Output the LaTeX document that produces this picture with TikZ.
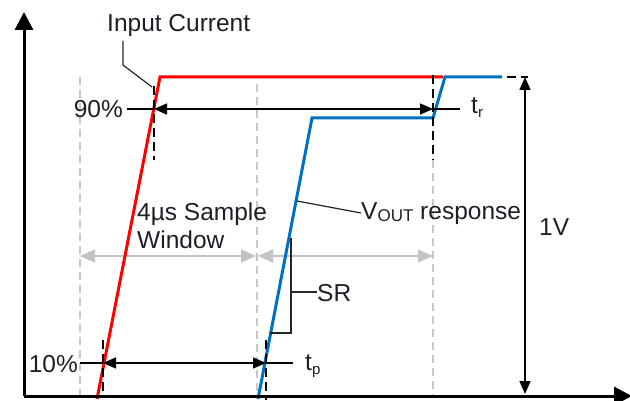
\documentclass[tikz,border=0pt]{standalone}
\usepackage{fontspec}
\setmainfont{Liberation Sans}
\usetikzlibrary{arrows.meta}
\definecolor{myred}{RGB}{255,0,0}
\definecolor{myblue}{RGB}{0,112,192}
\definecolor{gline}{RGB}{200,200,200}
\definecolor{garrow}{RGB}{195,195,195}
\definecolor{txt}{RGB}{30,30,40}
\tikzset{
  axis/.style={line width=3pt,-{Triangle[length=18pt,width=18pt]}},
  wave/.style={line width=3pt,line join=miter},
  griddash/.style={gline,line width=1.3pt,dash pattern=on 8pt off 5pt},
  blkdash/.style={black,line width=1.6pt,dash pattern=on 9pt off 5pt},
  dim/.style={black,line width=1.5pt},
  dimarr/.style={black,line width=1.5pt,{Triangle[length=13pt,width=11pt]}-{Triangle[length=13pt,width=11pt]}},
  garr/.style={garrow,line width=1.5pt,{Triangle[length=15pt,width=13pt]}-{Triangle[length=15pt,width=13pt]}},
  lead/.style={black!85,line width=1.2pt},
  lbl/.style={text=txt,inner sep=0pt,font=\fontsize{24.5}{28}\selectfont},
}
\newcommand{\subs}[1]{\raisebox{-4pt}{\fontsize{15}{15}\selectfont #1}}
\begin{document}
\begin{tikzpicture}[x=1pt,y=-1pt]
\useasboundingbox (0,0) rectangle (630,401);
% coordinates
\coordinate (o) at (24,396);
\coordinate (ytop) at (24,12);
\coordinate (xend) at (632,396);
\coordinate (r0) at (97,399);
\coordinate (r1) at (160,77);
\coordinate (r2) at (443,77);
\coordinate (b0) at (258,399);
\coordinate (b1) at (312,118);
\coordinate (b2) at (433,118);
\coordinate (b3) at (445,77);
\coordinate (b4) at (502,77);
\coordinate (g1t) at (80,77);
\coordinate (g1b) at (80,396);
\coordinate (g2t) at (257,84);
\coordinate (g2b) at (257,396);
\coordinate (g3t) at (433,160);
\coordinate (g3b) at (433,396);
% grey dashed verticals
\draw[griddash] (g1t) -- (g1b);
\draw[griddash] (g2t) -- (g2b);
\draw[griddash] (g3t) -- (g3b);
% grey arrows
\coordinate (ga1) at (80,256);
\coordinate (ga2) at (256,256);
\coordinate (ga3) at (258,256);
\coordinate (ga4) at (433,256);
\draw[garr] (ga1) -- (ga2);
\draw[garr] (ga3) -- (ga4);
% waves
\draw[wave,myred] (r0) -- (r1) -- (r2);
\draw[wave,myblue] (b0) -- (b1) -- (b2) -- (b3) -- (b4);
% black dashed markers
\coordinate (d1t) at (154,86);
\coordinate (d1b) at (154,160);
\draw[blkdash] (d1t) -- (d1b);
\coordinate (d2t) at (433,75);
\coordinate (d2b) at (433,160);
\draw[blkdash] (d2t) -- (d2b);
\coordinate (d3t) at (103,340);
\coordinate (d3b) at (103,398);
\draw[blkdash] (d3t) -- (d3b);
\coordinate (d4t) at (266,340);
\coordinate (d4b) at (266,400);
\draw[blkdash] (d4t) -- (d4b);
\coordinate (d5a) at (507,77);
\coordinate (d5b) at (528,77);
\draw[blkdash] (d5a) -- (d5b);
% 90% dimension
\coordinate (n90a) at (127,109);
\coordinate (n90b) at (154,109);
\coordinate (n90c) at (433,109);
\coordinate (n90d) at (460,109);
\draw[dim] (n90a) -- (n90b);
\draw[dimarr] (n90b) -- (n90c);
\draw[dim] (n90c) -- (n90d);
% 10% dimension
\coordinate (n10a) at (80,363);
\coordinate (n10b) at (103,363);
\coordinate (n10c) at (266,363);
\coordinate (n10d) at (293,363);
\draw[dim] (n10a) -- (n10b);
\draw[dimarr] (n10b) -- (n10c);
\draw[dim] (n10c) -- (n10d);
% 1V arrow
\coordinate (v1t) at (525,77);
\coordinate (v1b) at (525,394);
\draw[dimarr] (v1t) -- (v1b);
% axes
\draw[axis] (o) -- (ytop);
\draw[axis] (o) -- (xend);
% SR bracket
\coordinate (sr1) at (289,238);
\coordinate (sr2) at (291,238);
\coordinate (sr3) at (291,333);
\coordinate (sr4) at (270,333);
\coordinate (sr5) at (291,292);
\coordinate (sr6) at (317,292);
\draw[lead,line width=1.5pt] (sr2) -- (sr3) -- (sr4);
\draw[lead,line width=1.5pt] (sr5) -- (sr6);
% leaders
\coordinate (ic1) at (123,41);
\coordinate (ic2) at (123,65);
\coordinate (ic3) at (152,87);
\draw[lead] (ic1) -- (ic2) -- (ic3);
\coordinate (vo1) at (297,201);
\coordinate (vo2) at (361,213);
\draw[lead] (vo1) -- (vo2);
% labels
\node[lbl,anchor=west] (lic) at (107,25) {Input Current};
\node[lbl,anchor=east] (l90) at (123,109) {90\%};
\node[lbl,anchor=west] (ltr) at (471,108) {t\subs{r}};
\node[lbl,anchor=east] (l10) at (78,364) {10\%};
\node[lbl,anchor=west] (ltp) at (305,366) {t\subs{p}};
\node[lbl,anchor=west,align=left] (lsw) at (137,226) {4µs Sample\\Window};
\node[lbl,anchor=west] (lvo) at (361,214) {V\raisebox{-2pt}{\fontsize{17}{17}\selectfont OUT} response};
\node[lbl,anchor=west] (l1v) at (539,227) {1V};
\node[lbl,anchor=west] (lsr) at (317,293) {SR};
\end{tikzpicture}
\end{document}
